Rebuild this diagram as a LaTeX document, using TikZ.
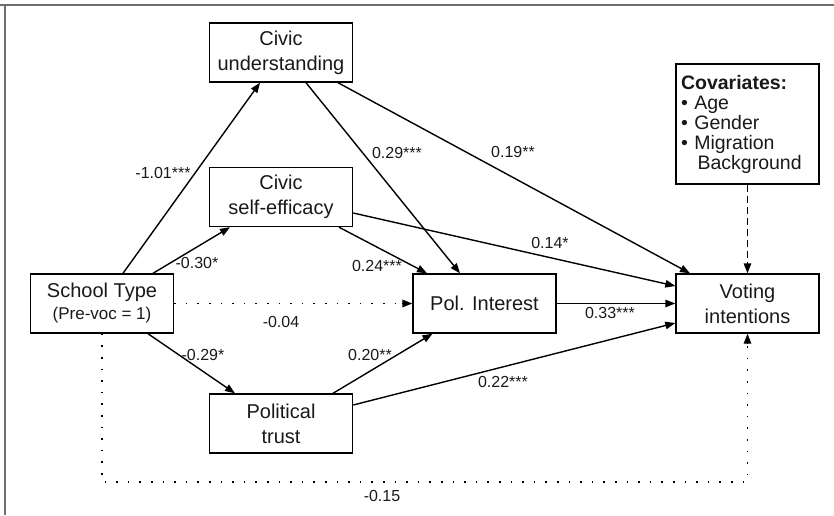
\documentclass[tikz,border=0pt]{standalone}
\usepackage{fontspec}
\setmainfont{Liberation Sans}
\usetikzlibrary{arrows.meta,calc}
\definecolor{txt}{RGB}{25,25,25}
\definecolor{framec}{RGB}{110,110,110}
\begin{document}
\begin{tikzpicture}[x=1pt,y=-1pt,
  varbox/.style={draw=black,line width=1.4pt,minimum width=143pt,minimum height=59pt,inner sep=1pt,align=center,text=txt,font=\fontsize{20}{25}\selectfont},
  lbl/.style={text=txt,font=\fontsize{16}{18}\selectfont,inner sep=0pt},
  path/.style={line width=1.4pt,-{Triangle[length=10pt,width=7.5pt]}},
  dotline/.style={line width=1.6pt,dash pattern=on 1.6pt off 10pt},
  dashline/.style={line width=1.4pt,dash pattern=on 7pt off 4pt}]
\useasboundingbox (0,0) rectangle (834,515);
\draw[framec,line width=2pt] (0,5) -- (834,5);
\draw[framec,line width=2pt] (5,4) -- (5,515);

\node[varbox] (cu) at (281,52.5) {Civic\\understanding};
\node[varbox] (cse) at (281,197) {Civic\\self-efficacy};
\node[varbox] (school) at (102,303.5) {School Type\\[-3pt]{\fontsize{17}{20}\selectfont (Pre-voc = 1)}};
\node[varbox] (pt) at (281,423.5) {Political\\trust};
\node[varbox] (pol) at (484.5,303.5) {Pol. Interest};
\node[varbox] (vote) at (747.5,303.5) {Voting\\intentions};
\node[draw=black,line width=1.4pt,text width=133pt,minimum height=120pt,inner sep=5pt,align=left,text=txt,font=\fontsize{19.5}{20}\selectfont] (cov) at (747.5,124)
  {\textbf{Covariates:}\\• Age\\• Gender\\• Migration\\\hspace*{0.85em}Background};

\draw[path] ([xshift=21pt]school.north) -- ([xshift=-21pt]cu.south);
\draw[path] ([xshift=51pt]school.north) -- ([xshift=-51pt]cse.south);
\draw[path] ([xshift=46pt]school.south) -- ([xshift=-46pt]pt.north);
\draw[dotline] (school.east) -- ([xshift=-9pt]pol.west);
\draw[path] ([xshift=-10pt]pol.west) -- (pol.west);
\draw[dotline] (school.south) -- (school.south |- 0,482) -- (vote.south |- 0,482) -- ([yshift=-9pt]vote.south);
\draw[path] ([yshift=-10pt]vote.south) -- (vote.south);
\draw[path] ([xshift=25pt]cu.south) -- ([xshift=-24.5pt]pol.north);
\draw[path] ([xshift=57pt]cu.south) -- ([xshift=-57.5pt]vote.north);
\draw[path] ([xshift=58pt]cse.south) -- ([xshift=-57.5pt]pol.north);
\draw[path] ([yshift=-16pt]cse.east) -- ([yshift=17.5pt]vote.west);
\draw[path] ([xshift=52pt]pt.north) -- ([xshift=-52pt]pol.south);
\draw[path] ([yshift=18.5pt]pt.east) -- ([yshift=-19.5pt]vote.west);
\draw[path] (pol.east) -- (vote.west);
\draw[dashline] (cov.south) -- ([yshift=10pt]vote.north);
\draw[path] ([yshift=10pt]vote.north) -- (vote.north);

\node[lbl] (l1) at (163,173) {-1.01***};
\node[lbl] (l2) at (197,263) {-0.30*};
\node[lbl] (l3) at (397,153) {0.29***};
\node[lbl] (l4) at (513,152) {0.19**};
\node[lbl] (l5) at (550,243) {0.14*};
\node[lbl] (l6) at (377,266) {0.24***};
\node[lbl] (l7) at (281,322) {-0.04};
\node[lbl] (l8) at (203,355) {-0.29*};
\node[lbl] (l9) at (370,355) {0.20**};
\node[lbl] (l10) at (610,313) {0.33***};
\node[lbl] (l11) at (503,382) {0.22***};
\node[lbl] (l12) at (382,496) {-0.15};
\end{tikzpicture}
\end{document}
